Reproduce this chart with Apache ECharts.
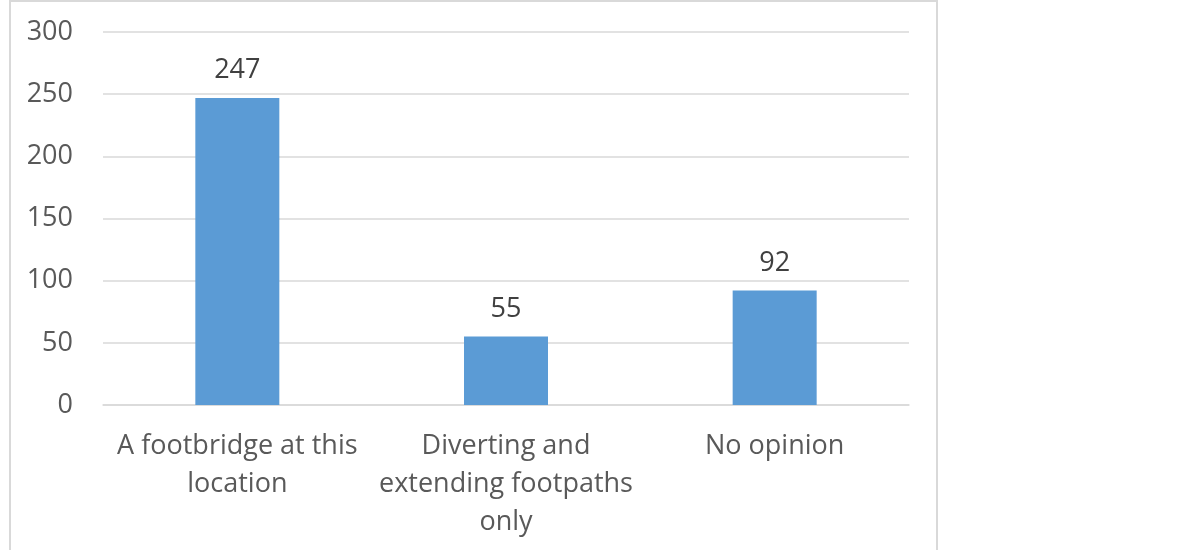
<!DOCTYPE html>
<html><head><meta charset="utf-8">
<script src="https://cdn.jsdelivr.net/npm/echarts@6/dist/echarts.min.js"></script>
<style>html,body{margin:0;padding:0;background:#fff}#c{width:1196px;height:550px}</style>
</head><body><div id="c"></div>
<script>
const categories = ["A footbridge at this\nlocation", "Diverting and\nextending footpaths\nonly", "No opinion"];
const values = [247, 55, 92];
const yTicks = [0, 50, 100, 150, 200, 250, 300];

const FONT = '"Open Sans", "Noto Sans", sans-serif';
const chart = echarts.init(document.getElementById('c'), null, {renderer: 'canvas'});
chart.setOption({
  animation: false,
  backgroundColor: '#ffffff',
  graphic: [{
    type: 'rect', shape: {x: 10, y: 1, width: 927, height: 560},
    style: {fill: 'none', stroke: '#d9d9d9', lineWidth: 2}, silent: true
  }],
  grid: {left: 103, right: 287, top: 32, bottom: 145, containLabel: false},
  xAxis: {
    type: 'category', data: categories,
    axisLine: {show: true, lineStyle: {color: '#d9d9d9', width: 1.5}},
    axisTick: {show: false},
    axisLabel: {color: '#595959', fontSize: 27, fontFamily: FONT, margin: 22, lineHeight: 38, interval: 0}
  },
  yAxis: {
    type: 'value', min: yTicks[0], max: yTicks[yTicks.length - 1], interval: 50,
    axisLine: {show: false}, axisTick: {show: false},
    splitLine: {lineStyle: {color: '#d9d9d9', width: 1.5}},
    axisLabel: {color: '#595959', fontSize: 27, fontFamily: FONT, margin: 30}
  },
  series: [{
    type: 'bar', data: values, barWidth: 84,
    itemStyle: {color: '#5b9bd5'},
    label: {show: true, position: 'top', distance: 14, color: '#404040', fontSize: 27, fontFamily: FONT}
  }]
});
</script></body></html>
